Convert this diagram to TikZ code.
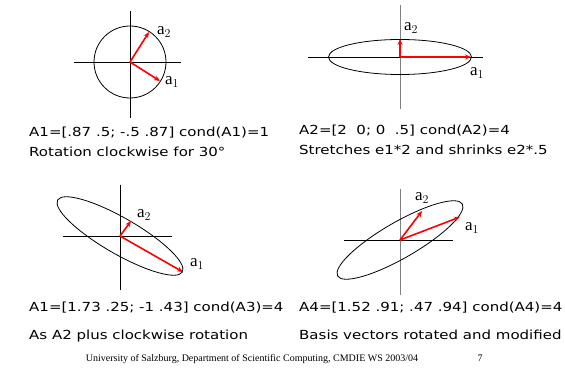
\documentclass[tikz,border=0pt]{standalone}
\usepackage{fontspec}
\setmainfont{Liberation Serif}
\setsansfont[FakeStretch=1.2]{DejaVu Sans}
\usetikzlibrary{arrows.meta}
\begin{document}
\begin{tikzpicture}[x=1pt, y=-1pt, >={Stealth[length=6pt,width=5pt]},
    axis/.style={line width=0.9pt},
    axisgray/.style={line width=0.9pt, gray},
    curve/.style={line width=0.8pt},
    vec/.style={->, red, line width=1.6pt},
    lab/.style={font=\fontsize{17}{17}\selectfont, inner sep=0pt},
    caption/.style={font=\sffamily\fontsize{12.5}{15}\selectfont, anchor=base west, inner sep=0pt},
    foot/.style={font=\fontsize{10}{12}\selectfont, anchor=base, inner sep=0pt}]
    \useasboundingbox (0,0) rectangle (565,371);

    % rotation
    \begin{scope}[shift={(130,62)}]
        \draw[axis] (-56,0) -- (51,0);
        \draw[axis] (0,-51) -- (0,56);
        \draw[curve] (0,0) circle (36);
        \coordinate (o1) at (0,0);
        \coordinate (p1) at (30,19);
        \coordinate (q1) at (19,-30);
        \draw[vec] (o1) -- (p1);
        \draw[vec] (o1) -- (q1);
        \node[lab] (la1) at (42,20) {a$_1$};
        \node[lab] (lb1) at (34,-30) {a$_2$};
    \end{scope}

    % stretch
    \begin{scope}[shift={(400,57)}]
        \draw[axis] (-92,0) -- (83,0);
        \draw[axisgray] (0,-52) -- (0,52);
        \draw[curve] (0,0) ellipse (71.5 and 17.5);
        \coordinate (o2) at (0,0);
        \coordinate (p2) at (71,0);
        \coordinate (q2) at (0,-18);
        \draw[vec] (o2) -- (p2);
        \draw[vec] (o2) -- (q2);
        \node[lab] (la2) at (77,16) {a$_1$};
        \node[lab] (lb2) at (11,-29) {a$_2$};
    \end{scope}

    % stretch and rotation
    \begin{scope}[shift={(120,236)}]
        \draw[axis] (-57,0) -- (52,0);
        \draw[axis] (0,-51) -- (0,54);
        \draw[curve, rotate=-30] (0,0) ellipse (72 and 18);
        \coordinate (o3) at (0,0);
        \coordinate (p3) at (63,36);
        \coordinate (q3) at (11,-15);
        \draw[vec] (o3) -- (p3);
        \draw[vec] (o3) -- (q3);
        \node[lab] (la3) at (77,28) {a$_1$};
        \node[lab] (lb3) at (24,-21) {a$_2$};
    \end{scope}

    % general
    \begin{scope}[shift={(400,240)}]
        \draw[axis] (-56,0) -- (53,0);
        \draw[axisgray] (0,-51) -- (0,55);
        \draw[curve, rotate=30] (0,0) ellipse (72 and 18);
        \coordinate (o4) at (0,0);
        \coordinate (p4) at (60,-23);
        \coordinate (q4) at (22,-29);
        \draw[vec] (o4) -- (p4);
        \draw[vec] (o4) -- (q4);
        \node[lab] (la4) at (72,-12) {a$_1$};
        \node[lab] (lb4) at (22,-42) {a$_2$};
    \end{scope}

    \node[caption] (t1) at (29,137) {A1=[.87 .5; -.5 .87] cond(A1)=1};
    \node[caption] (s1) at (29,157) {Rotation clockwise for 30°};
    \node[caption] (t2) at (299,135) {A2=[2\ \ 0; 0\ \ .5] cond(A2)=4};
    \node[caption] (s2) at (299,155) {Stretches e1*2 and shrinks e2*.5};
    \node[caption] (t3) at (29,312) {A1=[1.73 .25; -1 .43] cond(A3)=4};
    \node[caption] (s3) at (29,340) {As A2 plus clockwise rotation};
    \node[caption] (t4) at (299,312) {A4=[1.52 .91; .47 .94] cond(A4)=4};
    \node[caption] (s4) at (299,340) {Basis vectors rotated and modified};

    \node[foot] (uni) at (252,361) {University of Salzburg, Department of Scientific Computing, CMDIE WS 2003/04};
    \node[foot] (page) at (480,361) {7};
\end{tikzpicture}
\end{document}
